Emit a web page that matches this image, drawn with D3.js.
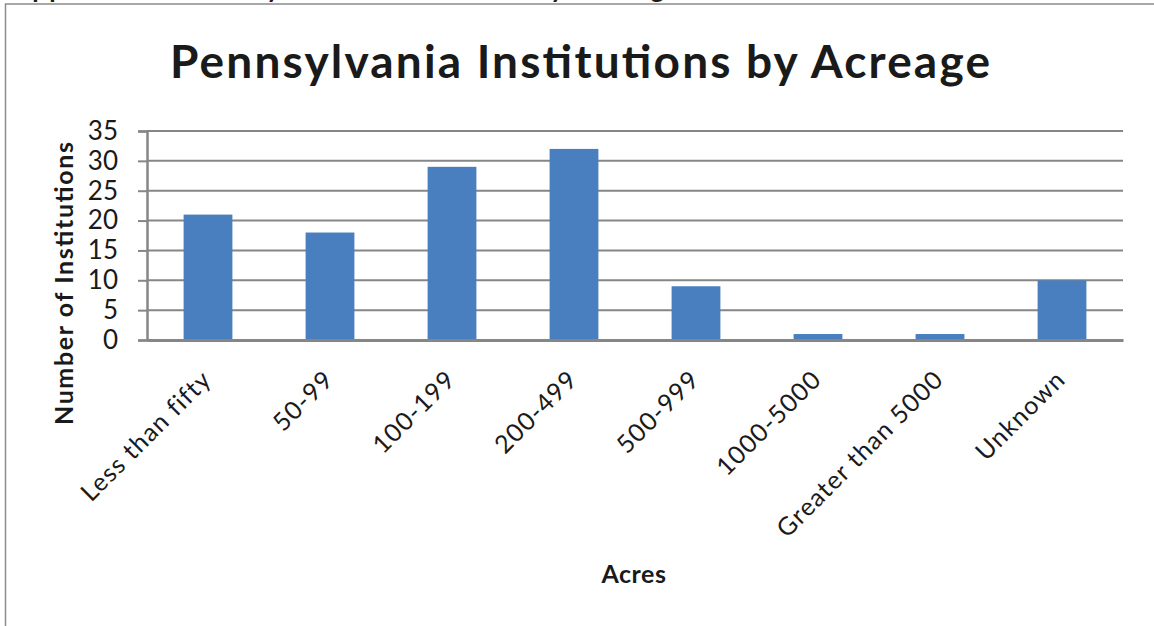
<!DOCTYPE html>
<html>
<head>
<meta charset="utf-8">
<script src="https://cdn.jsdelivr.net/npm/d3@7"></script>
<style>
  body { margin: 0; background: #fff; }
  text { font-family: Lato, "Open Sans", sans-serif; fill: #1a1a1a; }
</style>
</head>
<body>
<div id="chart"></div>
<script>
// Data
var categories = ["Less than fifty", "50-99", "100-199", "200-499", "500-999", "1000-5000", "Greater than 5000", "Unknown"];
var counts = [21, 18, 29, 32, 9, 1, 1, 10];
var yTicks = [0, 5, 10, 15, 20, 25, 30, 35];

var W = 1154, H = 626;
var margin = { top: 131, right: 31, bottom: 286, left: 147 },
    width = W - margin.left - margin.right,
    height = H - margin.top - margin.bottom;

var barColor = "#4a7fbf";
var gridColor = "#868686";

var svg = d3.select("#chart")
    .append("svg")
    .attr("width", W)
    .attr("height", H);

// cropped caption from the page above the chart
svg.append("text")
    .attr("x", 12)
    .attr("y", -2)
    .attr("textLength", 668)
    .style("font-size", "26px")
    .style("font-weight", "bold")
    .text("Appendix B: Pennsylvania Institutions by Acreage");

// outer chart border
svg.append("path")
    .attr("d", "M5.5," + H + "V4H" + W)
    .attr("fill", "none")
    .attr("stroke", "#8c8c8c")
    .attr("stroke-width", 1.5);

svg.append("text")
    .attr("x", 170)
    .attr("y", 78)
    .attr("textLength", 820)
    .style("font-size", "46px")
    .style("font-weight", "bold")
    .text("Pennsylvania Institutions by Acreage");

var g = svg.append("g")
    .attr("transform", "translate(" + margin.left + "," + margin.top + ")");

var x = d3.scaleBand().domain(categories).range([0, width]).paddingInner(0.6).paddingOuter(0.3);
var y = d3.scaleLinear().domain([0, 35]).range([height, 0]);

// gridlines
g.append("g")
    .selectAll("line")
    .data(yTicks)
    .join("line")
    .attr("x1", 0)
    .attr("x2", width)
    .attr("y1", d => y(d))
    .attr("y2", d => y(d))
    .attr("stroke", gridColor)
    .attr("stroke-width", 2);

// bars
g.append("g")
    .selectAll("rect")
    .data(counts)
    .join("rect")
    .attr("x", (d, i) => x(categories[i]))
    .attr("y", d => y(d))
    .attr("width", x.bandwidth())
    .attr("height", d => y(0) - y(d))
    .attr("fill", barColor);

// y axis
var yAxis = g.append("g")
    .call(d3.axisLeft(y).tickValues(yTicks).tickSize(9).tickPadding(20));
yAxis.select(".domain").attr("stroke", gridColor).attr("stroke-width", 2.5);
yAxis.selectAll(".tick line").attr("stroke", gridColor).attr("stroke-width", 2);
yAxis.selectAll(".tick text")
    .attr("fill", "#1a1a1a")
    .style("font-family", "Lato, sans-serif")
    .style("font-size", "26px");

// x axis
var xAxis = g.append("g")
    .attr("transform", "translate(0," + height + ")")
    .call(d3.axisBottom(x).tickSize(0).tickPadding(0));
xAxis.select(".domain").attr("stroke", gridColor).attr("stroke-width", 3);
xAxis.selectAll(".tick text")
    .attr("fill", "#1a1a1a")
    .style("font-family", "Lato, sans-serif")
    .style("font-size", "25px")
    .style("letter-spacing", "1.2px")
    .attr("text-anchor", "end")
    .attr("dy", null)
    .attr("y", 0)
    .attr("transform", "translate(5,41) rotate(-45)");

// axis titles
svg.append("text")
    .attr("transform", "translate(73,283.5) rotate(-90)")
    .attr("text-anchor", "middle")
    .attr("textLength", 283)
    .style("font-size", "25px")
    .style("font-weight", "bold")
    .text("Number of Institutions");

svg.append("text")
    .attr("x", 634)
    .attr("y", 583)
    .attr("text-anchor", "middle")
    .style("font-size", "25px")
    .style("font-weight", "bold")
    .style("letter-spacing", "0.5px")
    .text("Acres");
</script>
</body>
</html>
